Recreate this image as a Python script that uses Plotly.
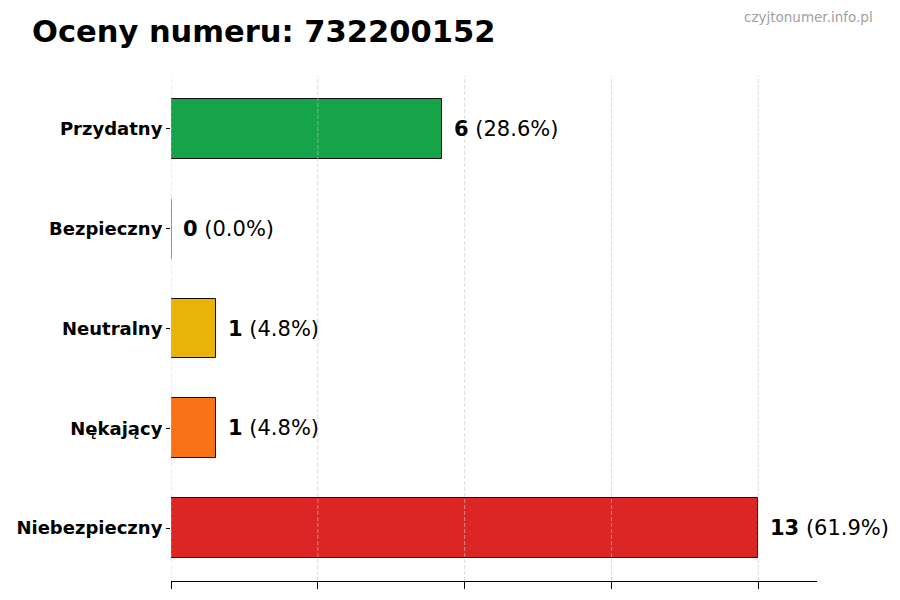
import plotly.graph_objects as go

# dane wykresu
categories = ["Przydatny", "Bezpieczny", "Neutralny", "Nękający", "Niebezpieczny"]
counts = [6, 0, 1, 1, 13]
percents = [28.6, 0.0, 4.8, 4.8, 61.9]
colors = ["#16a34a", "#3b82f6", "#eab308", "#f97316", "#dc2626"]
grid_ticks = [0, 3.25, 6.5, 9.75, 13]

FONT = "DejaVu Sans"
OFF = 8  # domyślny margines <body> w przeglądarce

W, H = 900 - OFF, 600 - OFF
L, R, T, B = 171 - OFF, 83, 76 - OFF, 19
PW, PH = W - L - R, H - T - B

fig = go.Figure()

fig.add_trace(go.Bar(
    x=counts,
    y=categories,
    orientation="h",
    width=0.6,
    marker=dict(color=colors, line=dict(color="#111111", width=1)),
    hoverinfo="x+y",
))

# krawędź słupków o wartości zero (plotly ich nie rysuje)
order = categories[::-1]
for cat, n in zip(categories, counts):
    if n == 0:
        i = order.index(cat)
        fig.add_shape(
            type="line", xref="x", yref="y",
            x0=0, x1=0, y0=i - 0.3, y1=i + 0.3,
            line=dict(color="#111111", width=1),
        )

# etykiety z wartościami
for cat, n, p in zip(categories, counts, percents):
    fig.add_annotation(
        x=n, y=cat, xref="x", yref="y",
        text=f"<b>{n}</b> ({p:.1f}%)",
        showarrow=False, xanchor="left", yanchor="middle",
        xshift=10,
        font=dict(family=FONT, size=21, color="#000000"),
    )

# linie siatki nad słupkami
for t in grid_ticks:
    fig.add_shape(
        type="line", xref="x", yref="paper",
        x0=t, x1=t, y0=0, y1=1,
        line=dict(color="rgba(195,195,195,0.6)", width=1, dash="4px,2px"),
        layer="above",
    )

# znak wodny
fig.add_annotation(
    x=(875 - OFF - L) / PW, y=(H - B - (17 - OFF)) / PH,
    xref="paper", yref="paper",
    text="czyjtonumer.info.pl", showarrow=False,
    xanchor="right", yanchor="middle",
    font=dict(family=FONT, size=13.5, color="#a0a0a0"),
)

fig.update_layout(
    width=W,
    height=H,
    title=dict(
        text="<b>Oceny numeru: 732200152</b>",
        x=(32 - OFF) / W, xanchor="left", xref="container",
        y=1 - (31 - OFF) / H, yanchor="middle", yref="container",
        font=dict(family=FONT, size=30.5, color="#000000"),
    ),
    margin=dict(l=L, r=R, t=T, b=B),
    plot_bgcolor="white",
    paper_bgcolor="white",
    showlegend=False,
    bargap=0,
    xaxis=dict(
        range=[0, 14.3],
        tickvals=grid_ticks,
        showticklabels=False,
        ticks="outside",
        ticklen=7,
        tickcolor="#000000",
        showgrid=False,
        zeroline=False,
        showline=True,
        linecolor="#000000",
        linewidth=1,
        automargin=False,
    ),
    yaxis=dict(
        categoryorder="array",
        categoryarray=order,
        range=[-0.53, 4.53],
        ticks="outside",
        ticklen=4,
        tickcolor="#000000",
        showgrid=False,
        zeroline=False,
        showline=False,
        automargin=False,
        tickfont=dict(family=FONT, size=18, color="#000000", weight="bold"),
    ),
)

fig.write_html("out.html")
